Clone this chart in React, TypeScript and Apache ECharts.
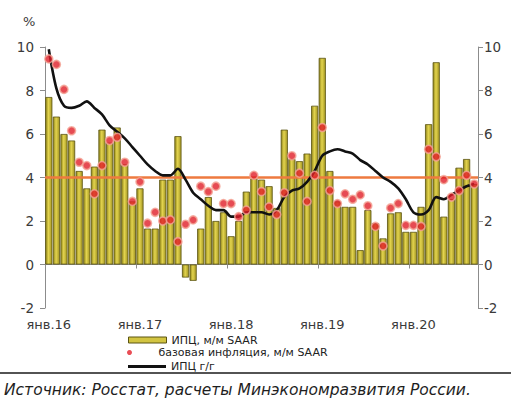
import React, { useEffect, useRef } from "react";
import * as echarts from "echarts";

const monthNames = ["янв", "фев", "мар", "апр", "май", "июн", "июл", "авг", "сен", "окт", "ноя", "дек"];
const years = ["16", "17", "18", "19", "20"];
const monthCount = 57; // Jan 2016 – Sep 2020

const categories: string[] = [];
for (const y of years) {
  for (const m of monthNames) {
    if (categories.length < monthCount) categories.push(`${m}.${y}`);
  }
}

// ИПЦ, м/м SAAR
const cpiMoM = [
  7.7, 6.8, 6.0, 5.7, 4.3, 3.5, 4.5, 6.2, 5.6, 6.3, 4.6, 2.9,
  3.5, 1.65, 1.65, 3.9, 3.9, 5.9, -0.6, -0.75, 1.65, 3.1, 2.0, 2.4,
  1.3, 2.0, 3.35, 3.95, 3.9, 3.6, 2.6, 6.2, 4.85, 4.75, 5.1, 7.3,
  9.5, 4.3, 2.9, 2.65, 2.65, 0.66, 2.5, 1.9, 1.2, 2.35, 2.4, 1.5,
  1.5, 2.65, 6.45, 9.3, 2.2, 3.0, 4.45, 4.85, 3.7,
];

// базовая инфляция, м/м SAAR
const coreMoM = [
  9.45, 9.2, 8.05, 6.15, 4.7, 4.55, 3.25, 4.55, 5.7, 5.85, 4.7, 2.9,
  3.8, 1.9, 2.4, 2.0, 2.05, 1.05, 1.85, 2.05, 3.6, 3.35, 3.6, 2.8,
  2.8, 2.2, 2.5, 4.1, 3.35, 2.65, 2.3, 3.3, 5.0, 4.2, 2.9, 4.1,
  6.3, 3.4, 2.8, 3.25, 3.0, 3.2, 2.7, 1.75, 0.85, 2.6, 2.8, 1.8,
  1.8, 1.75, 5.3, 4.95, 3.9, 3.1, 3.4, 4.1, 3.7,
];

// ИПЦ г/г
const cpiYoY = [
  9.9, 8.1, 7.3, 7.2, 7.3, 7.5, 7.2, 6.9, 6.4, 6.1, 5.8, 5.4,
  5.0, 4.6, 4.3, 4.1, 4.1, 4.4, 3.9, 3.3, 3.0, 2.7, 2.5, 2.5,
  2.2, 2.2, 2.4, 2.4, 2.4, 2.3, 2.5, 3.1, 3.4, 3.5, 3.8, 4.3,
  5.0, 5.2, 5.3, 5.2, 5.1, 4.8, 4.6, 4.3, 4.0, 3.8, 3.5, 3.0,
  2.4, 2.3, 2.5, 3.1, 3.0, 3.2, 3.4, 3.6, 3.7,
];

const targetLevel = 4;

const seriesNames = {
  bar: "ИПЦ, м/м SAAR",
  core: "базовая инфляция, м/м SAAR",
  yoy: "ИПЦ г/г",
};

const FONT = "DejaVu Sans";

export default function App() {
  const ref = useRef<HTMLDivElement>(null);

  useEffect(() => {
    if (!ref.current) return;
    const chart = echarts.init(ref.current, undefined, { renderer: "svg" });

    const axisGray = "#8c8c8c";
    const labelColor = "#3a3a3a";

    const yAxisCommon = {
      type: "value",
      min: -2,
      max: 10,
      interval: 2,
      splitLine: { show: false },
      axisLine: { show: true, lineStyle: { color: axisGray, width: 1 } },
      axisTick: { show: true, length: 5, lineStyle: { color: axisGray } },
    };

    const legendCommon = {
      orient: "vertical",
      padding: 0,
      selectedMode: false,
      textStyle: { fontSize: 11, color: "#222", fontFamily: FONT },
    };

    const option = {
      animation: false,
      textStyle: { fontFamily: FONT },
      grid: { left: 45, right: 33, top: 47, bottom: 100, containLabel: false },
      xAxis: [
        {
          type: "category",
          data: categories,
          boundaryGap: true,
          position: "bottom",
          axisLine: { show: false, onZero: false },
          axisTick: { show: false },
          splitLine: { show: false },
          axisLabel: { interval: 11, color: labelColor, fontSize: 13, fontFamily: FONT, margin: 10 },
        },
        {
          type: "category",
          data: categories,
          boundaryGap: true,
          position: "bottom",
          axisLine: { show: true, onZero: true, lineStyle: { color: axisGray, width: 1 } },
          axisTick: { show: true, interval: 11, length: 4, lineStyle: { color: axisGray } },
          axisLabel: { show: false },
          splitLine: { show: false },
        },
      ],
      yAxis: [
        {
          ...yAxisCommon,
          position: "left",
          axisLabel: { color: labelColor, fontSize: 13.5, fontFamily: FONT, margin: 11 },
        },
        {
          ...yAxisCommon,
          position: "right",
          axisLabel: { color: labelColor, fontSize: 13.5, fontFamily: FONT, margin: 6 },
        },
      ],
      legend: [
        {
          ...legendCommon,
          left: 128,
          top: 334.5,
          itemWidth: 38,
          itemHeight: 6,
          data: [
            {
              name: seriesNames.bar,
              icon: "rect",
              itemStyle: { color: "#d2c441", borderColor: "#5b5412", borderWidth: 1 },
            },
          ],
        },
        {
          ...legendCommon,
          left: 127,
          top: 347,
          itemWidth: 48,
          itemHeight: 5,
          data: [
            {
              name: seriesNames.core,
              icon: "circle",
              itemStyle: { color: "#e3202a", borderWidth: 0 },
            },
          ],
        },
        {
          ...legendCommon,
          left: 128,
          top: 361,
          itemWidth: 38,
          itemHeight: 3,
          data: [
            {
              name: seriesNames.yoy,
              icon: "rect",
              itemStyle: { color: "#111111", borderWidth: 0 },
            },
          ],
        },
      ],
      series: [
        {
          name: seriesNames.bar,
          type: "bar",
          xAxisIndex: 0,
          yAxisIndex: 0,
          data: cpiMoM,
          barCategoryGap: "6%",
          z: 2,
          itemStyle: {
            color: new echarts.graphic.LinearGradient(0, 0, 1, 0, [
              { offset: 0, color: "#8f8419" },
              { offset: 0.45, color: "#e3d44e" },
              { offset: 1, color: "#a39523" },
            ]),
            borderColor: "#5b5412",
            borderWidth: 0.8,
          },
          markLine: {
            silent: true,
            symbol: "none",
            z: 5,
            label: { show: false },
            lineStyle: { color: "#ee7a3f", width: 2.5, type: "solid" },
            data: [{ yAxis: targetLevel }],
          },
        },
        {
          name: seriesNames.yoy,
          type: "line",
          xAxisIndex: 0,
          yAxisIndex: 0,
          data: cpiYoY,
          symbol: "none",
          smooth: 0.3,
          z: 8,
          lineStyle: { color: "#111111", width: 2.6 },
          itemStyle: { color: "#111111" },
        },
        {
          name: seriesNames.core,
          type: "scatter",
          xAxisIndex: 0,
          yAxisIndex: 0,
          data: coreMoM,
          symbolSize: 8,
          z: 10,
          itemStyle: { color: "#e01e28", borderColor: "#f4a596", borderWidth: 1.6 },
        },
      ],
      graphic: [
        {
          type: "text",
          left: 23,
          top: 15,
          style: { text: "%", fontSize: 13, fontFamily: FONT, fill: labelColor },
        },
        {
          type: "line",
          shape: { x1: 0, y1: 373, x2: 511, y2: 373 },
          style: { stroke: "#1a1a1a", lineWidth: 1.5 },
        },
        {
          type: "text",
          left: 4,
          top: 382,
          style: {
            text: "Источник: Росстат, расчеты Минэкономразвития России.",
            fontSize: 15.5,
            fontStyle: "italic",
            fontFamily: FONT,
            fill: "#1e1e1e",
          },
        },
      ],
    };

    chart.setOption(option as any);
    return () => chart.dispose();
  }, []);

  return (
    <div
      ref={ref}
      style={{ position: "fixed", left: 0, top: 0, width: 511, height: 408, background: "#fff" }}
    />
  );
}
